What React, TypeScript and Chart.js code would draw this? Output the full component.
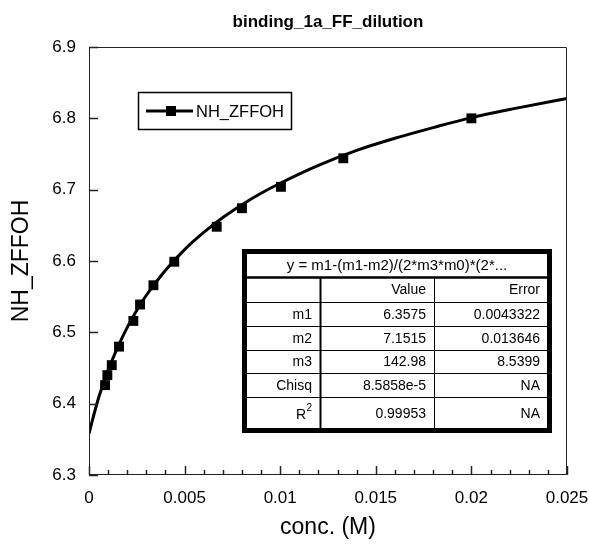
import React, { useEffect, useRef } from 'react';
import { Chart, registerables } from 'chart.js';

Chart.register(...registerables);

const FONT = "'Liberation Sans', Arial, sans-serif";

const chartTitle = 'binding_1a_FF_dilution';
const xAxisTitle = 'conc. (M)';
const yAxisTitle = 'NH_ZFFOH';
const seriesName = 'NH_ZFFOH';

// measured points
const concData = [0.00084, 0.00096, 0.00119, 0.00157, 0.00232, 0.00267, 0.00337, 0.00446, 0.00668, 0.008, 0.01004, 0.0133, 0.02];
const shiftData = [6.426, 6.44, 6.454, 6.48, 6.516, 6.539, 6.566, 6.599, 6.648, 6.674, 6.704, 6.744, 6.8];

// fitted curve
const fitConc = [0, 0.00025, 0.0005, 0.00075, 0.001, 0.0015, 0.002, 0.0025, 0.003, 0.004, 0.005, 0.006, 0.007, 0.008, 0.009, 0.01, 0.012, 0.014, 0.016, 0.018, 0.02, 0.0225, 0.025];
const fitShift = [6.358, 6.384, 6.408, 6.428, 6.447, 6.479, 6.507, 6.531, 6.552, 6.587, 6.616, 6.64, 6.661, 6.679, 6.695, 6.709, 6.734, 6.755, 6.772, 6.787, 6.801, 6.815, 6.828];

const xTickValues = [0, 0.005, 0.01, 0.015, 0.02, 0.025];
const yTickValues = [6.3, 6.4, 6.5, 6.6, 6.7, 6.8, 6.9];

const tableHeader = 'y = m1-(m1-m2)/(2*m3*m0)*(2*...';
const tableColumns = ['', 'Value', 'Error'];
const paramNames = ['m1', 'm2', 'm3', 'Chisq', 'R'];
const paramValues = ['6.3575', '7.1515', '142.98', '8.5858e-5', '0.99953'];
const paramErrors = ['0.0043322', '0.013646', '8.5399', 'NA', 'NA'];

const overlayPlugin = {
  id: 'overlay',
  afterDatasetsDraw(chart: any) {
    const ctx = chart.ctx as CanvasRenderingContext2D;
    const { left, right, top, bottom } = chart.chartArea;
    const xs = chart.scales.x;
    const ys = chart.scales.y;
    ctx.save();
    // frame
    ctx.strokeStyle = '#222';
    ctx.lineWidth = 1;
    ctx.beginPath();
    ctx.moveTo(left + 0.5, top + 0.5);
    ctx.lineTo(right - 0.5, top + 0.5);
    ctx.lineTo(right - 0.5, bottom - 0.5);
    ctx.lineTo(left + 0.5, bottom - 0.5);
    ctx.closePath();
    ctx.stroke();
    // x ticks (major + minor), pointing inward
    ctx.lineWidth = 1.5;
    for (let i = 0; i <= 25; i++) {
      const px = Math.round(xs.getPixelForValue(i * 0.001)) + 0.5;
      const len = i % 5 === 0 ? 9 : 5;
      ctx.beginPath();
      ctx.moveTo(px, bottom);
      ctx.lineTo(px, bottom - len);
      ctx.stroke();
    }
    // y ticks
    yTickValues.forEach((v) => {
      const py = Math.round(ys.getPixelForValue(v)) + 0.5;
      ctx.beginPath();
      ctx.moveTo(left, py);
      ctx.lineTo(left + 9, py);
      ctx.stroke();
    });

    // legend
    const lx = 138, ly = 92, lw = 154, lh = 38;
    ctx.fillStyle = '#fff';
    ctx.fillRect(lx, ly, lw, lh);
    ctx.strokeStyle = '#000';
    ctx.lineWidth = 1.5;
    ctx.strokeRect(lx + 0.5, ly + 0.5, lw - 1, lh - 1);
    const lmy = ly + lh / 2;
    ctx.lineWidth = 3;
    ctx.beginPath();
    ctx.moveTo(lx + 8, lmy);
    ctx.lineTo(lx + 55, lmy);
    ctx.stroke();
    ctx.fillStyle = '#000';
    ctx.fillRect(lx + 33 - 5, lmy - 5, 10, 10);
    ctx.font = `16.5px ${FONT}`;
    ctx.textAlign = 'left';
    ctx.textBaseline = 'middle';
    ctx.fillText(seriesName, lx + 58, lmy + 1);

    // fit table
    const tx0 = 242, tx1 = 552, ty0 = 249, ty1 = 433;
    const rowLines = [277, 302, 326, 350, 373, 397];
    const colLines = [320, 434];
    ctx.fillStyle = '#fff';
    ctx.fillRect(tx0, ty0, tx1 - tx0, ty1 - ty0);
    ctx.strokeStyle = '#000';
    rowLines.forEach((y, i) => {
      ctx.lineWidth = i === 0 ? 2.5 : 1;
      ctx.beginPath();
      ctx.moveTo(tx0, y + 0.5);
      ctx.lineTo(tx1, y + 0.5);
      ctx.stroke();
    });
    colLines.forEach((x, i) => {
      ctx.lineWidth = i === 0 ? 2 : 1;
      ctx.beginPath();
      ctx.moveTo(x + 0.5, rowLines[0]);
      ctx.lineTo(x + 0.5, ty1);
      ctx.stroke();
    });
    ctx.lineWidth = 5;
    ctx.strokeRect(tx0 + 2.5, ty0 + 2.5, tx1 - tx0 - 5, ty1 - ty0 - 5);

    ctx.fillStyle = '#000';
    ctx.font = `15px ${FONT}`;
    ctx.textBaseline = 'middle';
    ctx.textAlign = 'center';
    ctx.fillText(tableHeader, (tx0 + tx1) / 2, (ty0 + 3 + rowLines[0]) / 2 + 1);
    ctx.font = `14px ${FONT}`;
    const rowEdges = [rowLines[0], ...rowLines.slice(1), ty1 - 4];
    const colRight = [colLines[0] - 8, colLines[1] - 8, tx1 - 12];
    ctx.textAlign = 'right';
    tableColumns.forEach((c, j) => {
      if (c) ctx.fillText(c, colRight[j], (rowEdges[0] + rowEdges[1]) / 2 + 1);
    });
    paramNames.forEach((name, i) => {
      const cy = (rowEdges[i + 1] + rowEdges[i + 2]) / 2 + 1;
      if (name === 'R') {
        ctx.font = `10px ${FONT}`;
        ctx.fillText('2', colRight[0], cy - 6);
        ctx.font = `14px ${FONT}`;
        ctx.fillText(name, colRight[0] - 6, cy + 1);
      } else {
        ctx.fillText(name, colRight[0], cy);
      }
      ctx.fillText(paramValues[i], colRight[1], cy);
      ctx.fillText(paramErrors[i], colRight[2], cy);
    });
    ctx.restore();
  },
};

export default function App() {
  const ref = useRef<HTMLCanvasElement>(null);
  useEffect(() => {
    if (!ref.current) return;
    const chart = new Chart(ref.current, {
      type: 'scatter',
      data: {
        datasets: [
          {
            label: 'fit',
            data: fitConc.map((x, i) => ({ x, y: fitShift[i] })),
            showLine: true,
            borderColor: '#000',
            borderWidth: 3,
            pointRadius: 0,
            cubicInterpolationMode: 'monotone',
            order: 2,
          },
          {
            label: seriesName,
            data: concData.map((x, i) => ({ x, y: shiftData[i] })),
            showLine: false,
            pointStyle: 'rect',
            pointRadius: 7,
            backgroundColor: '#000',
            borderColor: '#000',
            borderWidth: 0,
            order: 1,
          },
        ],
      },
      options: {
        responsive: false,
        animation: false,
        layout: { padding: { left: 0, right: 22, top: 0, bottom: 0 } },
        plugins: {
          legend: { display: false },
          tooltip: { enabled: false },
          title: {
            display: true,
            text: chartTitle,
            fullSize: false,
            color: '#000',
            font: { family: FONT, size: 17, weight: 'bold' },
            padding: { top: 12, bottom: 14.6 },
          },
        },
        scales: {
          x: {
            type: 'linear',
            min: 0,
            max: 0.025,
            grid: { display: false, drawTicks: false },
            border: { display: false },
            afterBuildTicks: (s: any) => {
              s.ticks = xTickValues.map((v) => ({ value: v }));
            },
            afterFit: (s: any) => {
              s.height = 73;
              s.paddingLeft = 0;
              s.paddingRight = 0;
            },
            ticks: {
              color: '#000',
              padding: 13,
              maxRotation: 0,
              font: { family: FONT, size: 17 },
              callback: (v: any) => String(+Number(v).toFixed(4)),
            },
            title: {
              display: true,
              text: xAxisTitle,
              color: '#000',
              font: { family: FONT, size: 23 },
              padding: { top: 0, bottom: 7 },
            },
          },
          y: {
            type: 'linear',
            min: 6.3,
            max: 6.9,
            grid: { display: false, drawTicks: false },
            border: { display: false },
            afterBuildTicks: (s: any) => {
              s.ticks = yTickValues.map((v) => ({ value: v }));
            },
            afterFit: (s: any) => {
              s.width = 89;
              s.paddingTop = 0;
              s.paddingBottom = 0;
            },
            ticks: {
              color: '#000',
              padding: 13,
              font: { family: FONT, size: 17 },
              callback: (v: any) => Number(v).toFixed(1),
            },
            title: {
              display: true,
              text: yAxisTitle,
              color: '#000',
              font: { family: FONT, size: 23 },
              padding: { top: 8, bottom: 0 },
            },
          },
        },
      },
      plugins: [overlayPlugin],
    } as any);
    return () => chart.destroy();
  }, []);
  return (
    <div style={{ position: 'fixed', left: 0, top: 0, width: 589, height: 548, background: '#fff' }}>
      <canvas ref={ref} width={589} height={548} style={{ display: 'block' }} />
    </div>
  );
}
